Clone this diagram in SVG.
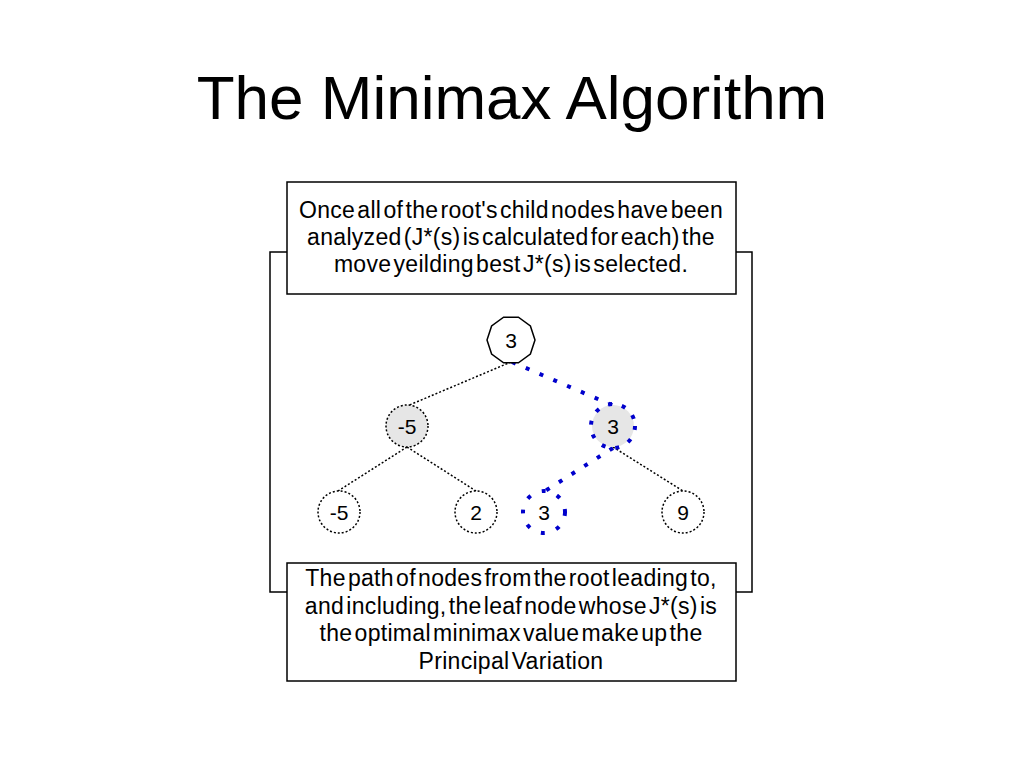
<svg xmlns="http://www.w3.org/2000/svg" width="1024" height="768" viewBox="0 0 1024 768">
<style>
  text { font-family: "Liberation Sans", Arial, sans-serif; fill: #000; }
  .title { font-size: 62px; text-anchor: middle; }
  .note { font-size: 23px; text-anchor: middle; word-spacing: -4.5px; letter-spacing: 0.3px; }
  .box { fill: #fff; stroke: #000; stroke-width: 1.5; }
  .bracket { fill: none; stroke: #000; stroke-width: 1.5; }
  .num { font-size: 21px; text-anchor: middle; dominant-baseline: central; }
  .edge { stroke: #000; stroke-width: 1.5; stroke-dasharray: 2 2; fill: none; }
  .pv { stroke: #0000cc; stroke-width: 4; stroke-dasharray: 4 11; fill: none; }
  .leaf { fill: #fff; stroke: #000; stroke-width: 1.5; stroke-dasharray: 2 2; }
  .mid { fill: #e6e6e6; stroke: #000; stroke-width: 1.5; stroke-dasharray: 2 2; }
  .midpv { fill: #e6e6e6; stroke: none; }
  .ring { fill: none; stroke: #0000cc; stroke-width: 4; stroke-dasharray: 4 10; }
</style>
<rect width="1024" height="768" fill="#fff"/>
<text class="title" x="512" y="119">The Minimax Algorithm</text>

<g id="bracket">
  <polyline class="bracket" points="287,252 270,252 270,592 287,592"/>
  <polyline class="bracket" points="736,252 752,252 752,592 736,592"/>
</g>

<g id="note-top">
  <rect class="box" x="287" y="182" width="449" height="112"/>
  <text class="note" x="511" y="218">Once all of the root's child nodes have been</text>
  <text class="note" x="511" y="245">analyzed (J*(s) is calculated for each) the</text>
  <text class="note" x="511" y="272">move yeilding best J*(s) is selected.</text>
</g>

<g id="note-bottom">
  <rect class="box" x="287" y="563" width="449" height="118"/>
  <text class="note" x="511" y="586">The path of nodes from the root leading to,</text>
  <text class="note" x="511" y="614">and including, the leaf node whose J*(s) is</text>
  <text class="note" x="511" y="641">the optimal minimax value make up the</text>
  <text class="note" x="511" y="669">Principal Variation</text>
</g>

<g id="connectors">
  <line class="edge" x1="511" y1="362" x2="407" y2="406"/>
  <line class="edge" x1="407" y1="447" x2="338" y2="491"/>
  <line class="edge" x1="407" y1="447" x2="476" y2="491"/>
  <line class="edge" x1="613" y1="447" x2="683" y2="491"/>
  <line class="pv" x1="512" y1="362" x2="614" y2="406"/>
  <line class="pv" x1="613" y1="448" x2="545" y2="491"/>
</g>

<g id="node-root">
  <polygon points="535,340 530.4,354.1 518.4,362.8 503.6,362.8 491.6,354.1 487,340 491.6,325.9 503.6,317.2 518.4,317.2 530.4,325.9" fill="#fff" stroke="#000" stroke-width="1.5"/>
  <text class="num" x="511" y="340">3</text>
</g>
<g id="node-min-left">
  <circle class="mid" cx="407" cy="426" r="21"/>
  <text class="num" x="407" y="426">-5</text>
</g>
<g id="node-min-right">
  <circle class="midpv" cx="613" cy="426" r="21"/>
  <circle class="ring" cx="613" cy="426" r="22"/>
  <text class="num" x="613" y="426">3</text>
</g>
<g id="leaf-1">
  <circle class="leaf" cx="339" cy="512" r="21"/>
  <text class="num" x="339" y="512">-5</text>
</g>
<g id="leaf-2">
  <circle class="leaf" cx="476" cy="512" r="21"/>
  <text class="num" x="476" y="512">2</text>
</g>
<g id="leaf-3">
  <circle class="ring" cx="544" cy="512" r="21" style="stroke-dasharray:4 12"/>
  <text class="num" x="544" y="512">3</text>
</g>
<g id="leaf-4">
  <circle class="leaf" cx="683" cy="512" r="21"/>
  <text class="num" x="683" y="512">9</text>
</g>
</svg>
